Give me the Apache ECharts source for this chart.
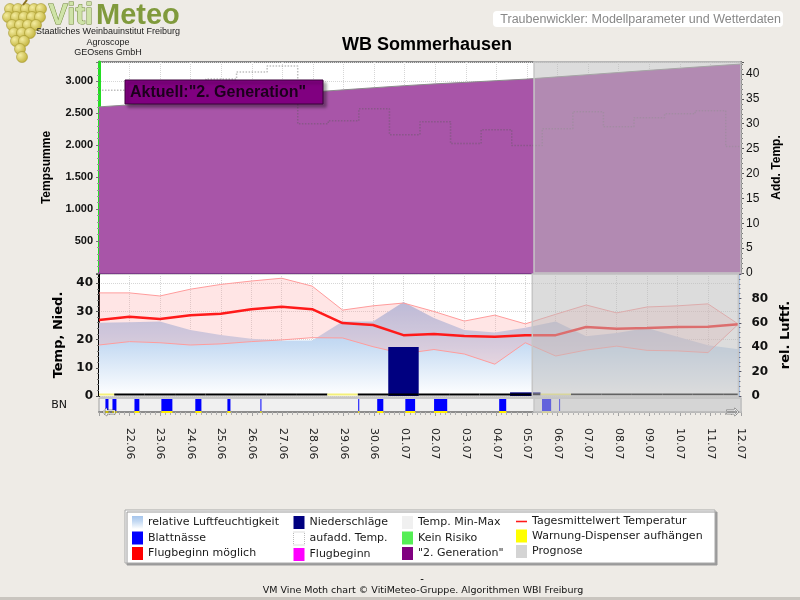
<!DOCTYPE html>
<html>
<head>
<meta charset="utf-8">
<script src="https://cdn.jsdelivr.net/npm/echarts@6/dist/echarts.min.js"></script>
<style>
  html, body { margin: 0; padding: 0; background: #eeebe6; }
  #chart { width: 800px; height: 600px; }
</style>
</head>
<body>
<div id="chart"></div>
<script>
// day labels, index 0 = 21.06
const dates = ['21.06', '22.06', '23.06', '24.06', '25.06', '26.06', '27.06', '28.06', '29.06', '30.06',
  '01.07', '02.07', '03.07', '04.07', '05.07', '06.07', '07.07', '08.07', '09.07', '10.07', '11.07', '12.07']

// top panel
const tempsumme = [2598, 2630, 2663, 2696, 2730, 2763, 2797, 2831, 2865, 2898, 2930,
  2958, 2982, 3008, 3033, 3068, 3102, 3136, 3170, 3203, 3236, 3268]
const addTemp = [36.7, 36.7, 37.5, 38, 39, 40.4, 41.6, 30, 30.6, 33, 27.8,
  30.4, 26, 28.8, 25.6, 29, 32.4, 29.4, 31.2, 32, 32.6, 25.4]

// bottom panel
const tMax = [36.6, 36.6, 35.5, 37.9, 39.6, 40.8, 41.8, 39, 30.5, 32, 33,
  30, 26.6, 28.7, 25.6, 29, 32.3, 29.5, 31.6, 32, 32.7, 25.5]
const tMean = [27, 28.1, 27.3, 28.7, 29.2, 30.8, 31.7, 30.8, 25.9, 25.2, 21.6,
  22, 21.3, 21, 21.6, 21.6, 24.5, 23.9, 24.1, 24.5, 24.6, 25.5]
const tMin = [18.1, 19.3, 18.9, 18.1, 18.5, 19.3, 19.9, 20.7, 20.6, 17.5, 15,
  16.5, 14.9, 11.3, 18.9, 14.2, 16.3, 17.7, 16.2, 16, 15.4, 25.5]
const luftfeuchte = [60, 60.5, 61, 54, 50, 47, 45.5, 45.5, 61, 61, 77,
  64, 54, 52, 56, 61, 49, 51.7, 55.8, 48.6, 41.7, 38.3]
const niederschlag = [0, 0, 0, 0, 0, 0, 0, 0, 0, 0, 17.4,
  0, 0, 0, 1.3, 0, 0, 0, 0, 0, 0, 0]
// 1 = Warnung (gelb), 0 = keine
const dispenser = [1, 0, 0, 0, 0, 0, 0, 0, 1, 0, 0, 0, 0, 0, 0, 1, 0, 0, 0, 0, 0, 0]

// leaf wetness periods [from, to] in days since 21.06
const blattnaesse = [[0.21, 0.31], [0.44, 0.57], [1.16, 1.32], [2.04, 2.40], [3.15, 3.35],
  [4.20, 4.30], [5.28, 5.31], [8.48, 8.51], [9.10, 9.30], [10.02, 10.34], [10.96, 11.39],
  [13.09, 13.32], [14.49, 14.79], [15.05, 15.08]]

const prognoseStart = 14.23
const prognoseEnd = 21

const pairs = arr => arr.map((v, i) => [i, v])
const deNum = v => String(v).replace(/\B(?=(\d{3})+(?!\d))/g, '.')

const chart = echarts.init(document.getElementById('chart'))

const dotted = { show: true, lineStyle: { type: 'dotted', color: '#d6d6d6', width: 1 } }
const xBase = { type: 'value', min: 0, max: 21, interval: 1 }
const rhGradient = {
  type: 'linear', x: 0, y: 0, x2: 0, y2: 1,
  colorStops: [{ offset: 0, color: '#a4c4ec' }, { offset: 0.45, color: '#c6dbf3' }, { offset: 1, color: '#ffffff' }]
}
const prognoseArea = {
  silent: true, z: 20,
  itemStyle: { color: 'rgba(187,187,187,0.52)', borderColor: '#c6c6c6', borderWidth: 1.5 },
  data: [[{ xAxis: prognoseStart }, { xAxis: prognoseEnd }]]
}

const legendBase = {
  orient: 'vertical', top: 516, itemWidth: 11, itemHeight: 13, itemGap: 2.5,
  selectedMode: false, icon: 'rect', padding: 0,
  textStyle: { fontFamily: 'DejaVu Sans', fontSize: 11, color: '#1a1a1a' }
}
const li = (name, color, extra) => ({ name, itemStyle: Object.assign({ color, borderWidth: 0 }, extra || {}) })

// grape cluster for the logo
const grapes = []
const grapeRows = [[9, [10, 18, 26, 34, 41]], [17, [8, 16, 24, 32, 40]], [25, [12, 20, 28, 36]],
  [33, [14, 22, 30]], [41, [16, 24]], [49, [20]], [57, [22]]]
grapeRows.forEach(([y, xs]) => xs.forEach(x => grapes.push({
  type: 'circle', shape: { cx: x, cy: y, r: 5.5 },
  style: {
    fill: { type: 'radial', x: 0.35, y: 0.35, r: 0.8, colorStops: [{ offset: 0, color: '#f4eca0' }, { offset: 1, color: '#b8a82a' }] },
    stroke: '#9a8c22', lineWidth: 0.5
  }
})))

const option = {
  backgroundColor: '#eeebe6',
  animation: false,
  grid: [
    { left: 99, right: 59, top: 62, height: 211, show: true, backgroundColor: '#fff', borderColor: '#858585', borderWidth: 2 },
    { left: 99, right: 59, top: 274, height: 122, show: true, backgroundColor: '#fff', borderColor: '#a8a8a8', borderWidth: 1 },
    { left: 99, right: 59, top: 398, height: 14, show: true, backgroundColor: '#f0f0f0', borderColor: '#a0a0a0', borderWidth: 1 }
  ],
  xAxis: [
    Object.assign({}, xBase, {
      gridIndex: 0, axisLabel: { show: false }, axisTick: { show: false },
      axisLine: { lineStyle: { color: '#7d3a8a', width: 2 } }, splitLine: dotted
    }),
    Object.assign({}, xBase, {
      gridIndex: 1, axisLabel: { show: false }, axisTick: { show: false },
      axisLine: { show: false }, splitLine: dotted
    }),
    Object.assign({}, xBase, {
      gridIndex: 2,
      axisLine: { lineStyle: { color: '#8c8c8c', width: 2 } },
      axisTick: { length: 4, lineStyle: { color: '#a0a0a0' } },
      minorTick: { show: true, splitNumber: 6, length: 3, lineStyle: { color: '#b0b0b0' } },
      splitLine: { show: false },
      axisLabel: {
        rotate: -90, margin: 16, fontFamily: 'DejaVu Sans', fontSize: 11, color: '#222',
        formatter: v => (v > 0 ? dates[v] : '')
      }
    })
  ],
  yAxis: [
    {
      type: 'value', gridIndex: 0, position: 'left', min: 0, max: 3300, interval: 500,
      axisLine: { show: true, lineStyle: { color: '#22dd22', width: 3 } },
      axisTick: { show: true, length: 3, lineStyle: { color: '#777' } },
      minorTick: { show: true, splitNumber: 5, length: 2, lineStyle: { color: '#999' } },
      axisLabel: {
        showMinLabel: false, showMaxLabel: false, margin: 6, formatter: deNum,
        fontFamily: 'Liberation Sans', fontWeight: 'bold', fontSize: 11, color: '#111'
      },
      splitLine: dotted,
      name: 'Tempsumme', nameLocation: 'middle', nameGap: 46,
      nameTextStyle: { fontFamily: 'Liberation Sans', fontWeight: 'bold', fontSize: 12, color: '#000' }
    },
    {
      type: 'value', gridIndex: 0, position: 'right', min: 0, max: 42.4, interval: 5,
      axisLine: { show: true, lineStyle: { color: '#000', width: 2 } },
      axisTick: { show: true, length: 3, lineStyle: { color: '#555' } },
      minorTick: { show: true, splitNumber: 5, length: 2, lineStyle: { color: '#777' } },
      axisLabel: { showMaxLabel: false, margin: 5, fontFamily: 'Liberation Sans', fontSize: 12, color: '#111' },
      splitLine: { show: false },
      name: 'Add. Temp.', nameLocation: 'middle', nameGap: 29,
      nameTextStyle: { fontFamily: 'Liberation Sans', fontWeight: 'bold', fontSize: 12, color: '#000' }
    },
    {
      type: 'value', gridIndex: 1, position: 'left', min: 0, max: 43.3, interval: 10,
      axisLine: { show: true, lineStyle: { color: '#000', width: 2 } },
      axisTick: { show: true, length: 3, lineStyle: { color: '#555' } },
      minorTick: { show: true, splitNumber: 5, length: 2, lineStyle: { color: '#777' } },
      axisLabel: {
        showMaxLabel: false, margin: 6, fontFamily: 'DejaVu Sans', fontWeight: 'bold', fontSize: 12, color: '#111'
      },
      splitLine: dotted,
      name: 'Temp, Nied.', nameLocation: 'middle', nameGap: 34,
      nameTextStyle: { fontFamily: 'DejaVu Sans', fontWeight: 'bold', fontSize: 13, color: '#000' }
    },
    {
      type: 'value', gridIndex: 1, position: 'right', min: 0, max: 100, interval: 20,
      axisLine: { show: true, lineStyle: { color: '#a8c4e8', width: 2 } },
      axisTick: { show: true, length: 3, lineStyle: { color: '#556' } },
      minorTick: { show: true, splitNumber: 5, length: 2, lineStyle: { color: '#667' } },
      axisLabel: {
        showMaxLabel: false, margin: 13, fontFamily: 'DejaVu Sans', fontWeight: 'bold', fontSize: 12, color: '#111'
      },
      splitLine: { show: false },
      name: 'rel. Luftf.', nameLocation: 'middle', nameGap: 37,
      nameTextStyle: { fontFamily: 'DejaVu Sans', fontWeight: 'bold', fontSize: 13, color: '#000' }
    },
    {
      type: 'value', gridIndex: 2, min: 0, max: 1,
      axisLine: { show: false }, axisTick: { show: false }, axisLabel: { show: false }, splitLine: { show: false },
      name: 'BN', nameLocation: 'middle', nameRotate: 0, nameGap: 32,
      nameTextStyle: { fontFamily: 'DejaVu Sans', fontSize: 11, color: '#111' }
    }
  ],
  legend: [
    Object.assign({}, legendBase, {
      left: 132,
      data: [li('relative Luftfeuchtigkeit', rhGradient), li('Blattnässe', '#0000ff'), li('Flugbeginn möglich', '#ff0000')]
    }),
    Object.assign({}, legendBase, {
      left: 293,
      data: [li('Niederschläge', '#000080'),
        li('aufadd. Temp.', '#ffffff', { borderColor: '#bbbbbb', borderWidth: 1, borderType: 'dotted' }),
        li('Flugbeginn', '#ff00ff')]
    }),
    Object.assign({}, legendBase, {
      left: 402,
      data: [li('Temp. Min-Max', '#f0f0f0'), li('Kein Risiko', '#55ee55'), li('"2. Generation"', '#800080')]
    }),
    Object.assign({}, legendBase, {
      left: 516,
      data: [
        { name: 'Tagesmittelwert Temperatur', icon: 'path://M0,0h14v2H0z', itemStyle: { color: '#ff1a1a', borderWidth: 0 } },
        li('Warnung-Dispenser aufhängen', '#ffff00'), li('Prognose', '#d4d4d4')]
    })
  ],
  graphic: [
    { type: 'group', children: grapes.concat([{ type: 'line', shape: { x1: 27, y1: 0, x2: 23, y2: 5 }, style: { stroke: '#8a7020', lineWidth: 2 } }]) },
    {
      type: 'text', left: 48, top: 1,
      style: { text: 'Viti', fill: '#cfe3a8', stroke: '#6f8a36', lineWidth: 1, font: 'bold 29px "Liberation Sans"' }
    },
    {
      type: 'text', left: 96, top: 1,
      style: { text: 'Meteo', fill: '#809a3c', font: 'bold 29px "Liberation Sans"' }
    },
    { type: 'text', x: 108, y: 32, style: { text: 'Staatliches Weinbauinstitut Freiburg', fill: '#222', font: '9px "Liberation Sans"', textAlign: 'center', textVerticalAlign: 'middle' } },
    { type: 'text', x: 108, y: 43, style: { text: 'Agroscope', fill: '#222', font: '9px "Liberation Sans"', textAlign: 'center', textVerticalAlign: 'middle' } },
    { type: 'text', x: 108, y: 53, style: { text: 'GEOsens GmbH', fill: '#222', font: '9px "Liberation Sans"', textAlign: 'center', textVerticalAlign: 'middle' } },
    { type: 'rect', shape: { x: 493, y: 11, width: 290, height: 16, r: 4 }, style: { fill: '#fff' } },
    { type: 'text', x: 781, y: 19.5, style: { text: 'Traubenwickler: Modellparameter und Wetterdaten', fill: '#888', font: '12.5px "Liberation Sans"', textAlign: 'right', textVerticalAlign: 'middle' } },
    { type: 'text', x: 427, y: 45, style: { text: 'WB Sommerhausen', fill: '#000', font: 'bold 18px "Liberation Sans"', textAlign: 'center', textVerticalAlign: 'middle' } },
    {
      type: 'rect', z: 50, shape: { x: 125, y: 80, width: 198, height: 24 },
      style: { fill: '#800080', stroke: '#3a003a', lineWidth: 1, shadowBlur: 3, shadowOffsetX: 3, shadowOffsetY: 3, shadowColor: 'rgba(0,0,0,0.35)' }
    },
    { type: 'text', z: 51, x: 130, y: 92.5, style: { text: 'Aktuell:"2. Generation"', fill: '#1c001c', font: 'bold 16px "Liberation Sans"', textVerticalAlign: 'middle' } },
    { type: 'text', z: 60, x: 109, y: 413, style: { text: '⇦', fill: '#fff', stroke: '#333', lineWidth: 0.7, font: '16px "DejaVu Sans"', textAlign: 'center', textVerticalAlign: 'middle' } },
    { type: 'text', z: 60, x: 733, y: 413, style: { text: '⇨', fill: '#fff', stroke: '#333', lineWidth: 0.7, font: '16px "DejaVu Sans"', textAlign: 'center', textVerticalAlign: 'middle' } },
    {
      type: 'rect', shape: { x: 125, y: 510, width: 590, height: 53 },
      style: { fill: '#fff', stroke: '#a8a8a8', lineWidth: 1, shadowBlur: 0, shadowOffsetX: 2, shadowOffsetY: 2, shadowColor: '#9a9a9a' }
    },
    { type: 'text', x: 422, y: 579, style: { text: '-', fill: '#000', font: '10px "DejaVu Sans"', textAlign: 'center', textVerticalAlign: 'middle' } },
    { type: 'text', x: 423, y: 591, style: { text: 'VM Vine Moth chart © VitiMeteo-Gruppe. Algorithmen WBI Freiburg', fill: '#111', font: '9.5px "DejaVu Sans"', textAlign: 'center', textVerticalAlign: 'middle' } },
    { type: 'rect', shape: { x: 0, y: 597, width: 800, height: 3 }, style: { fill: '#c9c5bf' } }
  ],
  series: [
    {
      name: '"2. Generation"', type: 'line', xAxisIndex: 0, yAxisIndex: 0, data: pairs(tempsumme),
      symbol: 'none', z: 2,
      lineStyle: { color: '#8c8c8c', width: 1 },
      areaStyle: { color: '#a855a8', opacity: 1 }
    },
    {
      name: 'aufadd. Temp.', type: 'line', xAxisIndex: 0, yAxisIndex: 1, data: pairs(addTemp),
      step: 'middle', symbol: 'none', z: 3,
      lineStyle: { color: 'rgba(90,90,90,0.4)', width: 1.5, type: 'dotted' }
    },
    {
      name: 'relative Luftfeuchtigkeit', type: 'line', xAxisIndex: 1, yAxisIndex: 3, data: pairs(luftfeuchte),
      symbol: 'none', z: 2,
      lineStyle: { width: 0 },
      areaStyle: { color: rhGradient, opacity: 1 }
    },
    {
      // filled band between daily min and max, drawn as one polygon
      name: 'Temp. Min-Max', type: 'custom', xAxisIndex: 1, yAxisIndex: 2,
      data: tMin.map((v, i) => [i, v, tMax[i]]),
      encode: { x: 0, y: [1, 2] }, z: 3,
      renderItem: (params, api) => {
        if (params.dataIndexInside !== 0) return null
        const n = params.dataInsideLength
        const top = []
        const bottom = []
        for (let k = 0; k < n; k++) {
          const x = api.value(0, k)
          top.push(api.coord([x, api.value(2, k)]))
          bottom.unshift(api.coord([x, api.value(1, k)]))
        }
        return { type: 'polygon', shape: { points: top.concat(bottom) }, style: { fill: 'rgba(255,160,160,0.28)' } }
      }
    },
    {
      name: 'Temp. Min-Max', type: 'line', xAxisIndex: 1, yAxisIndex: 2, data: pairs(tMin),
      symbol: 'none', z: 3, lineStyle: { color: '#ff9c9c', width: 1 }
    },
    {
      name: 'Temp. Min-Max', type: 'line', xAxisIndex: 1, yAxisIndex: 2, data: pairs(tMax),
      symbol: 'none', z: 3, lineStyle: { color: '#ff9c9c', width: 1 }
    },
    {
      name: 'Tagesmittelwert Temperatur', type: 'line', xAxisIndex: 1, yAxisIndex: 2, data: pairs(tMean),
      symbol: 'none', z: 4,
      lineStyle: { color: '#ff1a1a', width: 2.5 }
    },
    {
      name: 'Niederschläge', type: 'custom', xAxisIndex: 1, yAxisIndex: 2, data: pairs(niederschlag),
      encode: { x: 0, y: 1 }, z: 5,
      renderItem: (params, api) => {
        const d = api.value(0)
        const v = api.value(1)
        if (!v) return null
        const p0 = api.coord([d - 0.5, v])
        const p1 = api.coord([d + 0.5, 0])
        return { type: 'rect', shape: { x: p0[0], y: p0[1], width: p1[0] - p0[0], height: p1[1] - p0[1] }, style: { fill: '#000080' } }
      }
    },
    {
      name: 'Warnung-Dispenser aufhängen', type: 'custom', xAxisIndex: 1, yAxisIndex: 2, data: pairs(dispenser),
      encode: { x: 0, y: 1 }, z: 5,
      renderItem: (params, api) => {
        const d = api.value(0)
        const p0 = api.coord([Math.max(0, d - 0.5), 0])
        const p1 = api.coord([Math.min(21, d + 0.5), 0])
        return {
          type: 'rect', shape: { x: p0[0], y: p0[1] - 2.5, width: p1[0] - p0[0], height: 2 },
          style: { fill: api.value(1) ? '#f4f07a' : '#000' }
        }
      }
    },
    {
      name: 'Blattnässe', type: 'custom', xAxisIndex: 2, yAxisIndex: 4, data: blattnaesse,
      encode: { x: [0, 1] }, z: 5,
      renderItem: (params, api) => {
        const p0 = api.coord([api.value(0), 1])
        const p1 = api.coord([api.value(1), 0])
        const w = Math.max(1, p1[0] - p0[0])
        return {
          type: 'group',
          children: [
            { type: 'rect', shape: { x: p0[0], y: p0[1] + 1, width: w, height: p1[1] - p0[1] - 2 }, style: { fill: '#0000ff' } },
            { type: 'rect', shape: { x: p0[0], y: p1[1] - 1, width: w, height: 2 }, style: { fill: '#ffee00' } }
          ]
        }
      }
    },
    { name: 'Prognose', type: 'line', xAxisIndex: 0, yAxisIndex: 0, data: [], z: 10, markArea: prognoseArea },
    { name: 'Prognose', type: 'line', xAxisIndex: 1, yAxisIndex: 2, data: [], z: 10, markArea: prognoseArea },
    { name: 'Prognose', type: 'line', xAxisIndex: 2, yAxisIndex: 4, data: [], z: 10, markArea: prognoseArea },
    { name: 'Flugbeginn möglich', type: 'line', data: [] },
    { name: 'Flugbeginn', type: 'line', data: [] },
    { name: 'Kein Risiko', type: 'line', data: [] }
  ]
}

chart.setOption(option)
</script>
</body>
</html>
